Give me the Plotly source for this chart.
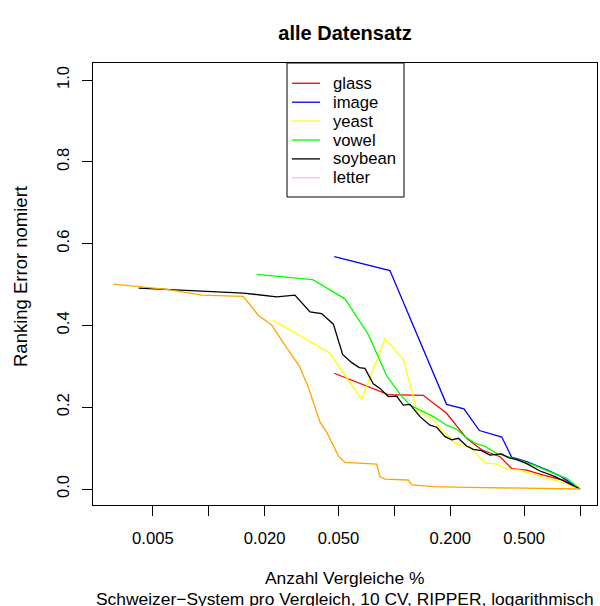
import plotly.graph_objects as go

# ---- data ----
glass_x = [0.0474, 0.0927, 0.143, 0.191, 0.245, 0.295, 0.371, 0.428, 0.516, 0.634, 0.813, 1.0]
glass_y = [0.283, 0.231, 0.229, 0.185, 0.124, 0.096, 0.079, 0.050, 0.046, 0.034, 0.022, 0.0]

image_x = [0.0474, 0.0946, 0.191, 0.237, 0.287, 0.379, 0.428, 0.516, 0.662, 0.780, 1.0]
image_y = [0.568, 0.534, 0.207, 0.196, 0.143, 0.127, 0.078, 0.067, 0.047, 0.032, 0.0]

yeast_x = [0.0221, 0.0446, 0.0666, 0.0889, 0.1116, 0.132, 0.162, 0.183, 0.217, 0.255,
           0.308, 0.356, 0.403, 0.475, 0.609, 0.780, 1.0]
yeast_y = [0.413, 0.333, 0.219, 0.367, 0.318, 0.193, 0.169, 0.141, 0.109, 0.103,
           0.064, 0.061, 0.049, 0.046, 0.031, 0.018, 0.0]

vowel_x = [0.0181, 0.0363, 0.0542, 0.0723, 0.0908, 0.1072, 0.1213, 0.1345, 0.162, 0.191,
           0.217, 0.240, 0.272, 0.308, 0.356, 0.438, 0.560, 0.689, 0.848, 1.0]
vowel_y = [0.525, 0.512, 0.465, 0.378, 0.277, 0.232, 0.205, 0.195, 0.177, 0.156,
           0.146, 0.128, 0.112, 0.104, 0.087, 0.075, 0.059, 0.042, 0.026, 0.0]

soybean_x = [0.00419, 0.00828, 0.01534, 0.02322, 0.0291, 0.0351, 0.0405, 0.0469, 0.0526, 0.0589,
             0.0647, 0.0694, 0.0738, 0.0769, 0.0836, 0.0927, 0.1028, 0.1116, 0.1213, 0.1374,
             0.1554, 0.169, 0.1874, 0.2037, 0.221, 0.245, 0.266, 0.295, 0.327, 0.378,
             0.411, 0.456, 0.516, 0.609, 0.718, 1.0]
soybean_y = [0.491, 0.485, 0.479, 0.470, 0.474, 0.433, 0.429, 0.403, 0.329, 0.309,
             0.297, 0.295, 0.273, 0.257, 0.246, 0.226, 0.227, 0.205, 0.207, 0.177,
             0.156, 0.151, 0.128, 0.120, 0.124, 0.105, 0.097, 0.094, 0.083, 0.086,
             0.077, 0.072, 0.062, 0.044, 0.032, 0.0]

letter_x = [0.00306, 0.00593, 0.00915, 0.01534, 0.01846, 0.0218, 0.0257, 0.0307, 0.0343, 0.0397,
            0.0435, 0.0499, 0.0542, 0.0802, 0.0836, 0.0889, 0.1188, 0.124, 0.162, 0.245, 1.0]
letter_y = [0.501, 0.488, 0.474, 0.471, 0.425, 0.401, 0.352, 0.301, 0.250, 0.164,
            0.136, 0.081, 0.065, 0.061, 0.030, 0.024, 0.022, 0.010, 0.006, 0.004, 0.0]

legend_names = ["glass", "image", "yeast", "vowel", "soybean", "letter"]
legend_colors = ["#FF0000", "#0000FF", "#FFFF00", "#00FF00", "#000000", "#FFC0CB"]

x_tickvals = [0.005, 0.01, 0.02, 0.05, 0.1, 0.2, 0.5, 1.0]
x_ticktext = ["0.005", "", "0.020", "0.050", "", "0.200", "0.500", ""]
y_tickvals = [0.0, 0.2, 0.4, 0.6, 0.8, 1.0]
y_ticktext = ["0.0", "0.2", "0.4", "0.6", "0.8", "1.0"]

FONT = "Liberation Sans, Arial, Helvetica, sans-serif"
FS = 16.67
LW = 1.3

# plot area in pixels
L, R, T, B = 93, 597, 63, 505
PW, PH = R - L, B - T


def px(xp):
    return (xp - L) / PW


def py(yp):
    return (B - yp) / PH


fig = go.Figure()
series = [
    ("glass", glass_x, glass_y, "#FF0000"),
    ("image", image_x, image_y, "#0000FF"),
    ("yeast", yeast_x, yeast_y, "#FFFF00"),
    ("vowel", vowel_x, vowel_y, "#00FF00"),
    ("soybean", soybean_x, soybean_y, "#000000"),
    ("letter", letter_x, letter_y, "#FFA500"),
]
for name, xs, ys, col in series:
    fig.add_trace(go.Scatter(x=xs, y=ys, mode="lines", name=name,
                             line=dict(color=col, width=LW), showlegend=False))

# legend box drawn like the R legend
shapes = [dict(type="rect", xref="paper", yref="paper", x0=px(287), x1=px(404),
               y0=py(197), y1=py(63), line=dict(color="black", width=1),
               fillcolor="white", layer="above")]
annotations = []
for i, (nm, col) in enumerate(zip(legend_names, legend_colors)):
    yy = py(83.3 + 18.9 * i)
    shapes.append(dict(type="line", xref="paper", yref="paper", x0=px(292), x1=px(320),
                       y0=yy, y1=yy, line=dict(color=col, width=LW), layer="above"))
    annotations.append(dict(text=nm, xref="paper", yref="paper", x=px(331), y=yy,
                            xanchor="left", yanchor="middle", showarrow=False,
                            font=dict(size=FS)))

annotations += [
    dict(text="Anzahl Vergleiche %", xref="paper", yref="paper", x=px(345), y=py(578),
         xanchor="center", yanchor="middle", showarrow=False, font=dict(size=17.4)),
    dict(text="Schweizer\u2212System pro Vergleich, 10 CV, RIPPER, logarithmisch",
         xref="paper", yref="paper", x=px(345), y=py(598.5), xanchor="center", yanchor="middle",
         showarrow=False, font=dict(size=17.4)),
    dict(text="Ranking Error nomiert", xref="paper", yref="paper", x=px(20), y=py(277),
         xanchor="center", yanchor="middle", textangle=-90, showarrow=False,
         font=dict(size=18.5)),
]

fig.update_layout(
    width=600, height=606,
    margin=dict(l=L, r=600 - R, t=T, b=606 - B, autoexpand=False),
    paper_bgcolor="white", plot_bgcolor="white",
    font=dict(family=FONT, size=FS, color="black"),
    title=dict(text="<b>alle Datensatz</b>", x=345 / 600, xanchor="center",
               y=1 - 33 / 606, yanchor="middle", font=dict(size=20, family=FONT)),
    showlegend=False,
    xaxis=dict(type="log", range=[-2.624, 0.0916], tickvals=x_tickvals, ticktext=x_ticktext,
               ticks="outside", ticklen=10, tickcolor="black", tickwidth=1,
               showline=True, mirror=True, linecolor="black", linewidth=1,
               showgrid=False, zeroline=False, ticklabelstandoff=8),
    yaxis=dict(range=[-0.0391, 1.0416], tickvals=y_tickvals, ticktext=y_ticktext,
               tickangle=-90, ticks="outside", ticklen=10, tickcolor="black", tickwidth=1,
               showline=True, mirror=True, linecolor="black", linewidth=1,
               showgrid=False, zeroline=False, ticklabelstandoff=6),
    shapes=shapes,
    annotations=annotations,
)

fig.write_html("out.html")
